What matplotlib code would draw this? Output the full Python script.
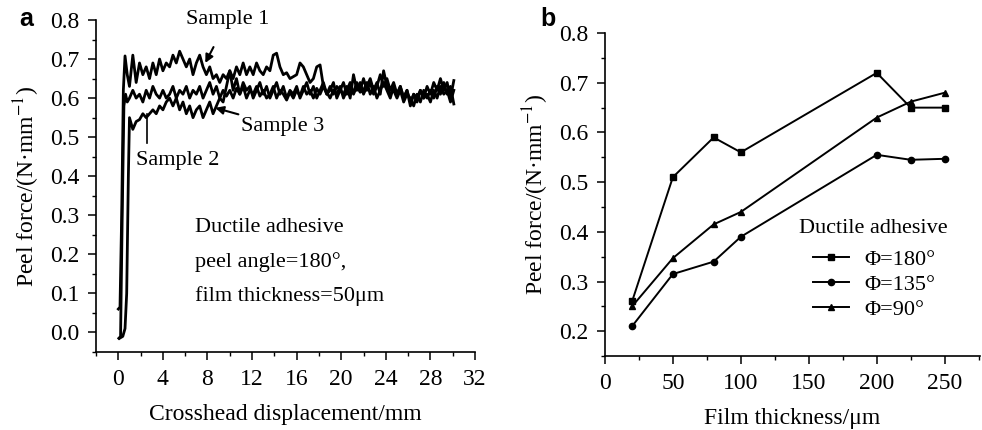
import numpy as np
import matplotlib
matplotlib.use("Agg")
import matplotlib.pyplot as plt
from matplotlib.pyplot import MultipleLocator

plt.rcParams['font.family'] = ['Liberation Serif', 'DejaVu Serif']
plt.rcParams['mathtext.fontset'] = 'stix'

# ---- panel a data: peel force vs crosshead displacement ----
# start-up (loading) part of each curve
rise1_x = [0.0, 0.15, 0.3, 0.45, 0.6, 0.8]
rise1_y = [0.06, 0.065, 0.30, 0.62, 0.708, 0.66]
rise2_x = [0.1, 0.4, 0.6, 0.75, 0.9]
rise2_y = [-0.015, -0.01, 0.01, 0.10, 0.40]
rise3_x = [0.05, 0.2, 0.35, 0.5, 0.65, 0.8]
rise3_y = [-0.015, -0.01, 0.30, 0.58, 0.61, 0.59]

disp = [1.0, 1.3, 1.6, 1.9, 2.2, 2.5, 2.8, 3.1, 3.4, 3.7,
        4.0, 4.3, 4.6, 4.9, 5.2, 5.5, 5.8, 6.1, 6.4, 6.7,
        7.0, 7.3, 7.6, 7.9, 8.2, 8.5, 8.8, 9.1, 9.4, 9.7,
        10.0, 10.3, 10.6, 10.9, 11.2, 11.5, 11.8, 12.1, 12.4, 12.7,
        13.0, 13.3, 13.6, 13.9, 14.2, 14.5, 14.8, 15.1, 15.4, 15.7,
        16.0, 16.3, 16.6, 16.9, 17.2, 17.5, 17.8, 18.1, 18.4, 18.7,
        19.0, 19.3, 19.6, 19.9, 20.2, 20.5, 20.8, 21.1, 21.4, 21.7,
        22.0, 22.3, 22.6, 22.9, 23.2, 23.5, 23.8, 24.1, 24.4, 24.7,
        25.0, 25.3, 25.6, 25.9, 26.2, 26.5, 26.8, 27.1, 27.4, 27.7,
        28.0, 28.3, 28.6, 28.9, 29.2, 29.5, 29.8, 30.1]

sample1 = [0.63, 0.71, 0.64, 0.69, 0.66, 0.68, 0.65, 0.69, 0.66, 0.70,
           0.67, 0.69, 0.68, 0.71, 0.69, 0.72, 0.70, 0.68, 0.70, 0.66,
           0.69, 0.71, 0.68, 0.66, 0.68, 0.65, 0.66, 0.64, 0.66, 0.65,
           0.67, 0.65, 0.68, 0.66, 0.69, 0.66, 0.68, 0.66, 0.69, 0.67,
           0.66, 0.68, 0.67, 0.71, 0.715, 0.68, 0.66, 0.665, 0.65, 0.655,
           0.66, 0.69, 0.68, 0.66, 0.64, 0.65, 0.68, 0.685, 0.63, 0.61,
           0.63, 0.61, 0.63, 0.62, 0.64, 0.61, 0.63, 0.615, 0.64, 0.62,
           0.65, 0.62, 0.64, 0.61, 0.63, 0.66, 0.63, 0.65, 0.62, 0.64,
           0.61, 0.63, 0.60, 0.62, 0.59, 0.61, 0.60, 0.62, 0.60, 0.63,
           0.61, 0.64, 0.62, 0.65, 0.62, 0.64, 0.60, 0.645]

sample2 = [0.55, 0.52, 0.54, 0.545, 0.56, 0.55, 0.56, 0.57, 0.56, 0.58,
           0.57, 0.59, 0.60, 0.58, 0.60, 0.57, 0.59, 0.56, 0.58, 0.55,
           0.57, 0.58, 0.55, 0.57, 0.59, 0.56, 0.58, 0.60, 0.59, 0.63,
           0.67, 0.62, 0.65, 0.61, 0.64, 0.62, 0.63, 0.60, 0.62, 0.64,
           0.61, 0.63, 0.60, 0.62, 0.64, 0.61, 0.63, 0.60, 0.62, 0.61,
           0.63, 0.60, 0.62, 0.64, 0.61, 0.63, 0.60, 0.62, 0.64, 0.61,
           0.62, 0.64, 0.60, 0.62, 0.61, 0.63, 0.60, 0.66, 0.62, 0.64,
           0.61, 0.63, 0.65, 0.62, 0.64, 0.61, 0.67, 0.63, 0.61, 0.62,
           0.60, 0.62, 0.59, 0.61, 0.60, 0.58, 0.61, 0.59, 0.62, 0.60,
           0.62, 0.60, 0.63, 0.61, 0.64, 0.61, 0.63, 0.585]

sample3 = [0.60, 0.62, 0.60, 0.61, 0.59, 0.62, 0.60, 0.63, 0.61, 0.60,
           0.62, 0.60, 0.61, 0.63, 0.60, 0.62, 0.61, 0.63, 0.60, 0.62,
           0.61, 0.63, 0.60, 0.62, 0.64, 0.61, 0.63, 0.60, 0.62, 0.605,
           0.62, 0.60, 0.625, 0.61, 0.63, 0.60, 0.62, 0.61, 0.63, 0.605,
           0.62, 0.60, 0.61, 0.63, 0.60, 0.62, 0.61, 0.595, 0.615, 0.60,
           0.62, 0.605, 0.63, 0.61, 0.62, 0.60, 0.625, 0.61, 0.63, 0.615,
           0.60, 0.62, 0.61, 0.63, 0.60, 0.62, 0.64, 0.61, 0.63, 0.615,
           0.62, 0.64, 0.61, 0.63, 0.60, 0.62, 0.64, 0.62, 0.60, 0.63,
           0.61, 0.63, 0.60, 0.62, 0.58, 0.61, 0.59, 0.62, 0.60, 0.61,
           0.59, 0.62, 0.60, 0.63, 0.61, 0.62, 0.59, 0.62]

# ---- panel b data: peel force vs film thickness ----
thickness = [20, 50, 80, 100, 200, 225, 250]
phi180 = [0.26, 0.51, 0.59, 0.56, 0.72, 0.65, 0.65]
phi135 = [0.21, 0.315, 0.34, 0.39, 0.555, 0.545, 0.547]
phi90 = [0.25, 0.347, 0.415, 0.44, 0.63, 0.662, 0.68]

fig = plt.figure(figsize=(9.82, 4.3), dpi=100)
ax1 = fig.add_axes([0.0978, 0.1814, 0.3859, 0.7721])
ax2 = fig.add_axes([0.616, 0.172, 0.382, 0.751])

fs_tick = 17
fs_lab = 17
fs_txt = 16

lw = 2.0
ax1.plot(rise3_x + disp, rise3_y + sample3, color="black", lw=lw)
ax1.plot(rise2_x + disp, rise2_y + sample2, color="black", lw=lw)
ax1.plot(rise1_x + disp, rise1_y + sample1, color="black", lw=lw)

ax1.annotate("Sample 1", xy=(7.8, 0.69), xytext=(9.8, 0.80), ha="center", va="center",
             fontsize=fs_txt, arrowprops=dict(arrowstyle="-|>", color="black", lw=1.5,
                                              shrinkA=12, shrinkB=0, mutation_scale=12))
ax1.annotate("Sample 3", xy=(8.7, 0.575), xytext=(14.7, 0.527), ha="center", va="center",
             fontsize=fs_txt, arrowprops=dict(arrowstyle="-|>", color="black", lw=1.5,
                                              shrinkA=26, shrinkB=0, mutation_scale=12))
ax1.plot([2.6, 2.6], [0.485, 0.56], color="black", lw=1.2)
ax1.text(5.3, 0.44, "Sample 2", ha="center", va="center", fontsize=fs_txt)

ax1.text(6.9, 0.27, "Ductile adhesive", ha="left", va="center", fontsize=fs_txt)
ax1.text(6.9, 0.18, "peel angle=180°,", ha="left", va="center", fontsize=fs_txt)
ax1.text(6.9, 0.092, "film thickness=50μm", ha="left", va="center", fontsize=fs_txt)

ax1.set_xlim(-2, 32)
ax1.set_ylim(-0.05, 0.8)
ax1.xaxis.set_major_locator(MultipleLocator(4))
ax1.xaxis.set_minor_locator(MultipleLocator(2))
ax1.yaxis.set_major_locator(MultipleLocator(0.1))
ax1.yaxis.set_minor_locator(MultipleLocator(0.05))
ax1.set_xticks(np.arange(0, 33, 4))
ax1.set_yticks(np.arange(0, 0.81, 0.1))
ax1.set_yticklabels(["%.1f" % v for v in np.arange(0, 0.81, 0.1)])
ax1.set_xlabel("Crosshead displacement/mm", fontsize=fs_lab, labelpad=10)
ax1.set_ylabel("Peel force/(N·mm$^{-1}$)", fontsize=fs_lab, labelpad=6)

# panel b
ms = 4.5
ax2.plot(thickness, phi180, "-s", color="black", lw=1.4, ms=ms, label="Φ=180°")
ax2.plot(thickness, phi135, "-o", color="black", lw=1.4, ms=ms, label="Φ=135°")
ax2.plot(thickness, phi90, "-^", color="black", lw=1.4, ms=ms, label="Φ=90°")
ax2.text(0.715, 0.396, "Ductile adhesive", transform=ax2.transAxes,
         ha="center", va="center", fontsize=fs_txt)
leg = ax2.legend(loc="upper left", bbox_to_anchor=(0.555, 0.33),
                 frameon=False, fontsize=fs_txt, handlelength=1.6,
                 handletextpad=0.7, labelspacing=0.2, borderaxespad=0, borderpad=0)

ax2.set_xlim(0, 276)
ax2.set_ylim(0.15, 0.8)
ax2.xaxis.set_major_locator(MultipleLocator(50))
ax2.xaxis.set_minor_locator(MultipleLocator(25))
ax2.yaxis.set_major_locator(MultipleLocator(0.1))
ax2.yaxis.set_minor_locator(MultipleLocator(0.05))
ax2.set_xticks(np.arange(0, 251, 50))
ax2.set_yticks(np.arange(0.2, 0.81, 0.1))
ax2.set_yticklabels(["%.1f" % v for v in np.arange(0.2, 0.81, 0.1)])
ax2.set_xlabel("Film thickness/μm", fontsize=fs_lab, labelpad=10)
ax2.set_ylabel("Peel force/(N·mm$^{-1}$)", fontsize=fs_lab, labelpad=6)

for ax in (ax1, ax2):
    ax.spines['top'].set_visible(False)
    ax.spines['right'].set_visible(False)
    ax.spines['left'].set_linewidth(1.2)
    ax.spines['bottom'].set_linewidth(1.2)
    ax.tick_params(which="major", direction="out", length=6, width=1.1, labelsize=fs_tick, pad=6)
    ax.tick_params(which="minor", direction="out", length=3, width=1.0)

fig.text(0.020, 0.955, "a", fontsize=18, fontweight="bold", family="Liberation Sans", va="center")
fig.text(0.550, 0.955, "b", fontsize=18, fontweight="bold", family="Liberation Sans", va="center")

fig.savefig("out.png", dpi=100)
